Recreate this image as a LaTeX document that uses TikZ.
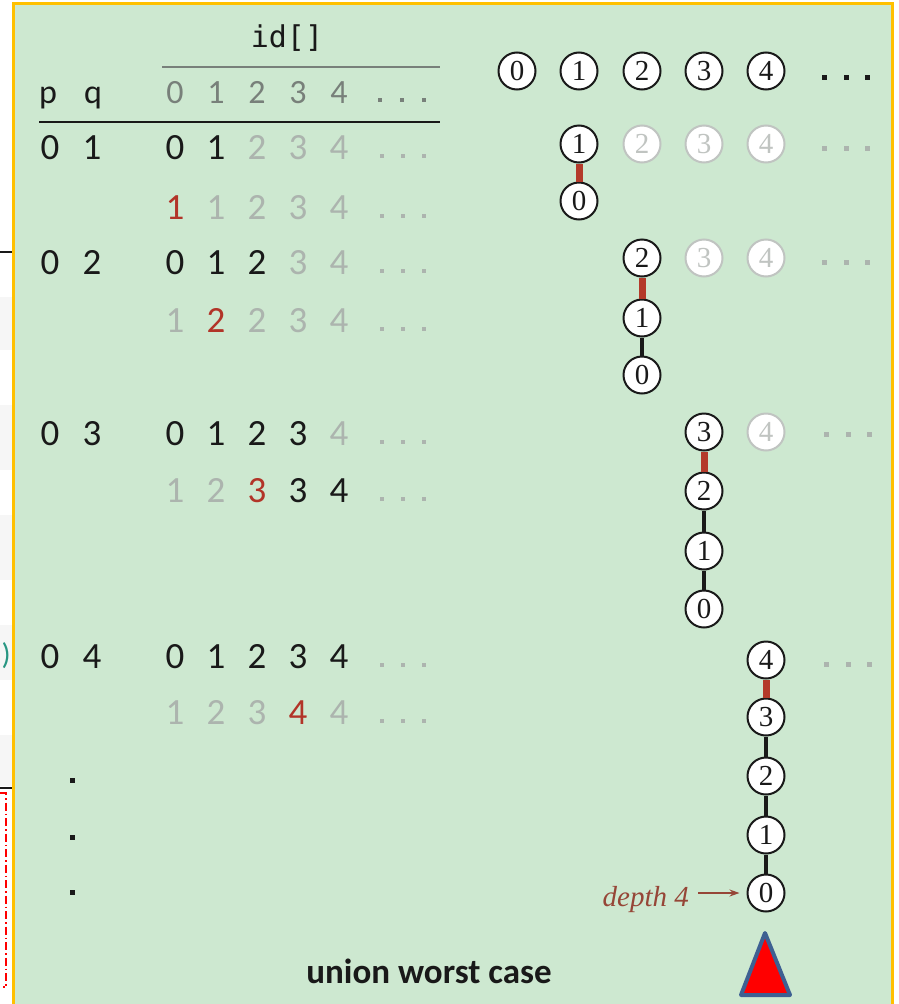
\documentclass[tikz,border=0pt]{standalone}
\usepackage{fontspec}
\setmainfont{Carlito}
\newfontfamily\monof{DejaVu Sans Mono}
\newfontfamily\seriff{Liberation Serif}
\usetikzlibrary{arrows.meta}
\definecolor{bggreen}{RGB}{205,232,208}
\definecolor{frameor}{RGB}{255,192,0}
\definecolor{hdrgray}{RGB}{120,128,122}
\definecolor{ltgray}{RGB}{172,180,174}
\definecolor{blk}{RGB}{25,25,25}
\definecolor{redd}{RGB}{178,52,40}
\definecolor{edgered}{RGB}{180,58,42}
\definecolor{depthc}{RGB}{150,70,55}
\definecolor{gcirc}{RGB}{192,196,193}
\definecolor{tblue}{RGB}{62,96,146}
\definecolor{bandgray}{RGB}{246,246,246}
\definecolor{parenc}{RGB}{40,150,130}
\tikzset{
  dig/.style={inner sep=0pt, anchor=base, font=\fontsize{37}{40}\selectfont},
  hdig/.style={inner sep=0pt, anchor=base, font=\fontsize{34}{36}\selectfont, text=hdrgray},
  tn/.style={circle, draw=blk, fill=white, line width=2pt, minimum size=37pt, inner sep=0pt,
    font=\seriff\fontsize{29}{30}\selectfont, text=blk},
  gtn/.style={tn, draw=gcirc, text=gcirc},
  redge/.style={edgered, line width=7pt},
  bedge/.style={blk, line width=4pt},
  deptharrow/.style={depthc, line width=1.4pt, -{Stealth[length=10pt,width=7pt]}},
}
\begin{document}
\begin{tikzpicture}[x=1pt,y=-1pt]
\useasboundingbox (0,0) rectangle (898,1004);
% background
\fill[white] (0,0) rectangle (898,1004);
\fill[bggreen] (13,3) rectangle (892,1010);
\draw[frameor, line width=3pt] (13,1010) -- (13,3) -- (892,3) -- (892,1010);
% left strip artifacts
\foreach \ya/\yb in {297/350,405/470,515/580,625/680,735/786}
  \fill[bandgray] (0,\ya) rectangle (11.5,\yb);
\draw[blk, line width=1.5pt] (0,252) -- (12,252);
\draw[blk, line width=1.5pt] (0,788) -- (12,788);
\node[anchor=east, inner sep=0pt, text=parenc, font=\fontsize{30}{32}\selectfont] (paren) at (11,656) {)};
\draw[red, line width=1.4pt, dash pattern=on 8pt off 3pt on 1.5pt off 3pt] (0,793) -- (6,793) -- (6,987) -- (3,987);
% header
\node[inner sep=0pt, text=blk, font=\monof\fontsize{30}{32}\selectfont] (idh) at (287,38) {id[]};
\draw[hdrgray, line width=2pt] (162,67) -- (440,67);
\draw[blk, line width=2.4pt] (39,122) -- (440,122);
\node[hdig, text=blk] (hp) at (48,103) {p};
\node[hdig, text=blk] (hq) at (93,103) {q};
\foreach \ch [count=\i] in {0,1,2,3,4}
  \node[hdig] (h\i) at ({134+41*\i},103) {\ch};
\foreach \x in {380,402,424} \fill[hdrgray] (\x-2,98) rectangle (\x+2,102);
% rows: pq
\foreach \p/\q/\y [count=\r] in {0/1/159,0/2/274,0/3/445,0/4/668} {
  \node[dig, text=blk] (p\r) at (50,\y) {\p};
  \node[dig, text=blk] (q\r) at (92,\y) {\q};
}
% id rows
\foreach \y/\lst [count=\r] in {
   159/{0/blk,1/blk,2/ltgray,3/ltgray,4/ltgray},
   219/{1/redd,1/ltgray,2/ltgray,3/ltgray,4/ltgray},
   274/{0/blk,1/blk,2/blk,3/ltgray,4/ltgray},
   332/{1/ltgray,2/redd,2/ltgray,3/ltgray,4/ltgray},
   445/{0/blk,1/blk,2/blk,3/blk,4/ltgray},
   502/{1/ltgray,2/ltgray,3/redd,3/blk,4/blk},
   668/{0/blk,1/blk,2/blk,3/blk,4/blk},
   724/{1/ltgray,2/ltgray,3/ltgray,4/redd,4/ltgray}} {
  \foreach \ch/\col [count=\i] in \lst
    \node[dig, text=\col] (v\r-\i) at ({134+41*\i},\y) {\ch};
  \foreach \x in {382,403,424} \fill[ltgray] (\x-2,\y-5) rectangle (\x+2,\y-1);
}
% vertical dots
\foreach \y in {780,837,892} \fill[blk] (69.5,\y-2.5) rectangle (74.5,\y+2.5);
% trees: top row
\foreach \i/\x in {0/517,1/579,2/642,3/704,4/766}
  \node[tn] (a\i) at (\x,71) {\i};
\foreach \x in {824,846,867} \fill[blk] (\x-2.5,74.5) rectangle (\x+2.5,79.5);
% step 1
\node[tn] (b1) at (579,144) {1};
\node[gtn] (b2) at (642,144) {2};
\node[gtn] (b3) at (704,144) {3};
\node[gtn] (b4) at (766,144) {4};
\node[tn] (b0) at (579,201) {0};
\draw[redge] (b1) -- (b0);
\foreach \x in {824,846,867} \fill[ltgray] (\x-2.5,145.5) rectangle (\x+2.5,150.5);
% step 2
\node[tn] (c2) at (642,258) {2};
\node[gtn] (c3) at (704,258) {3};
\node[gtn] (c4) at (766,258) {4};
\node[tn] (c1) at (642,318) {1};
\node[tn] (c0) at (642,375) {0};
\draw[redge] (c2) -- (c1);
\draw[bedge] (c1) -- (c0);
\foreach \x in {824,846,867} \fill[ltgray] (\x-2.5,259.5) rectangle (\x+2.5,264.5);
% step 3
\node[tn] (d3) at (704,432) {3};
\node[gtn] (d4) at (766,432) {4};
\node[tn] (d2) at (704,491) {2};
\node[tn] (d1) at (704,551) {1};
\node[tn] (d0) at (704,609) {0};
\draw[redge] (d3) -- (d2);
\draw[bedge] (d2) -- (d1);
\draw[bedge] (d1) -- (d0);
\foreach \x in {826,848,869} \fill[ltgray] (\x-2.5,431.5) rectangle (\x+2.5,436.5);
% step 4
\node[tn] (e4) at (766,660) {4};
\node[tn] (e3) at (766,717) {3};
\node[tn] (e2) at (766,776) {2};
\node[tn] (e1) at (766,835) {1};
\node[tn] (e0) at (766,893) {0};
\draw[redge] (e4) -- (e3);
\draw[bedge] (e3) -- (e2);
\draw[bedge] (e2) -- (e1);
\draw[bedge] (e1) -- (e0);
\foreach \x in {826,848,869} \fill[ltgray] (\x-2.5,661.5) rectangle (\x+2.5,666.5);
% depth label
\node[anchor=base east, inner sep=0pt, text=depthc, font=\seriff\itshape\fontsize{29}{31}\selectfont] (dlab) at (689,906) {depth 4};
\draw[deptharrow, shorten <=9pt, shorten >=7pt] (dlab.east |- e0.west) -- (e0.west);
% triangle
\draw[tblue, fill=red, line width=4pt, line join=round] (765,933) -- (741,995) -- (790,995) -- cycle;
% caption
\node[anchor=base, inner sep=0pt, text=blk, font=\bfseries\fontsize{35}{38}\selectfont] (cap) at (429,983) {union worst case};
\end{tikzpicture}
\end{document}
